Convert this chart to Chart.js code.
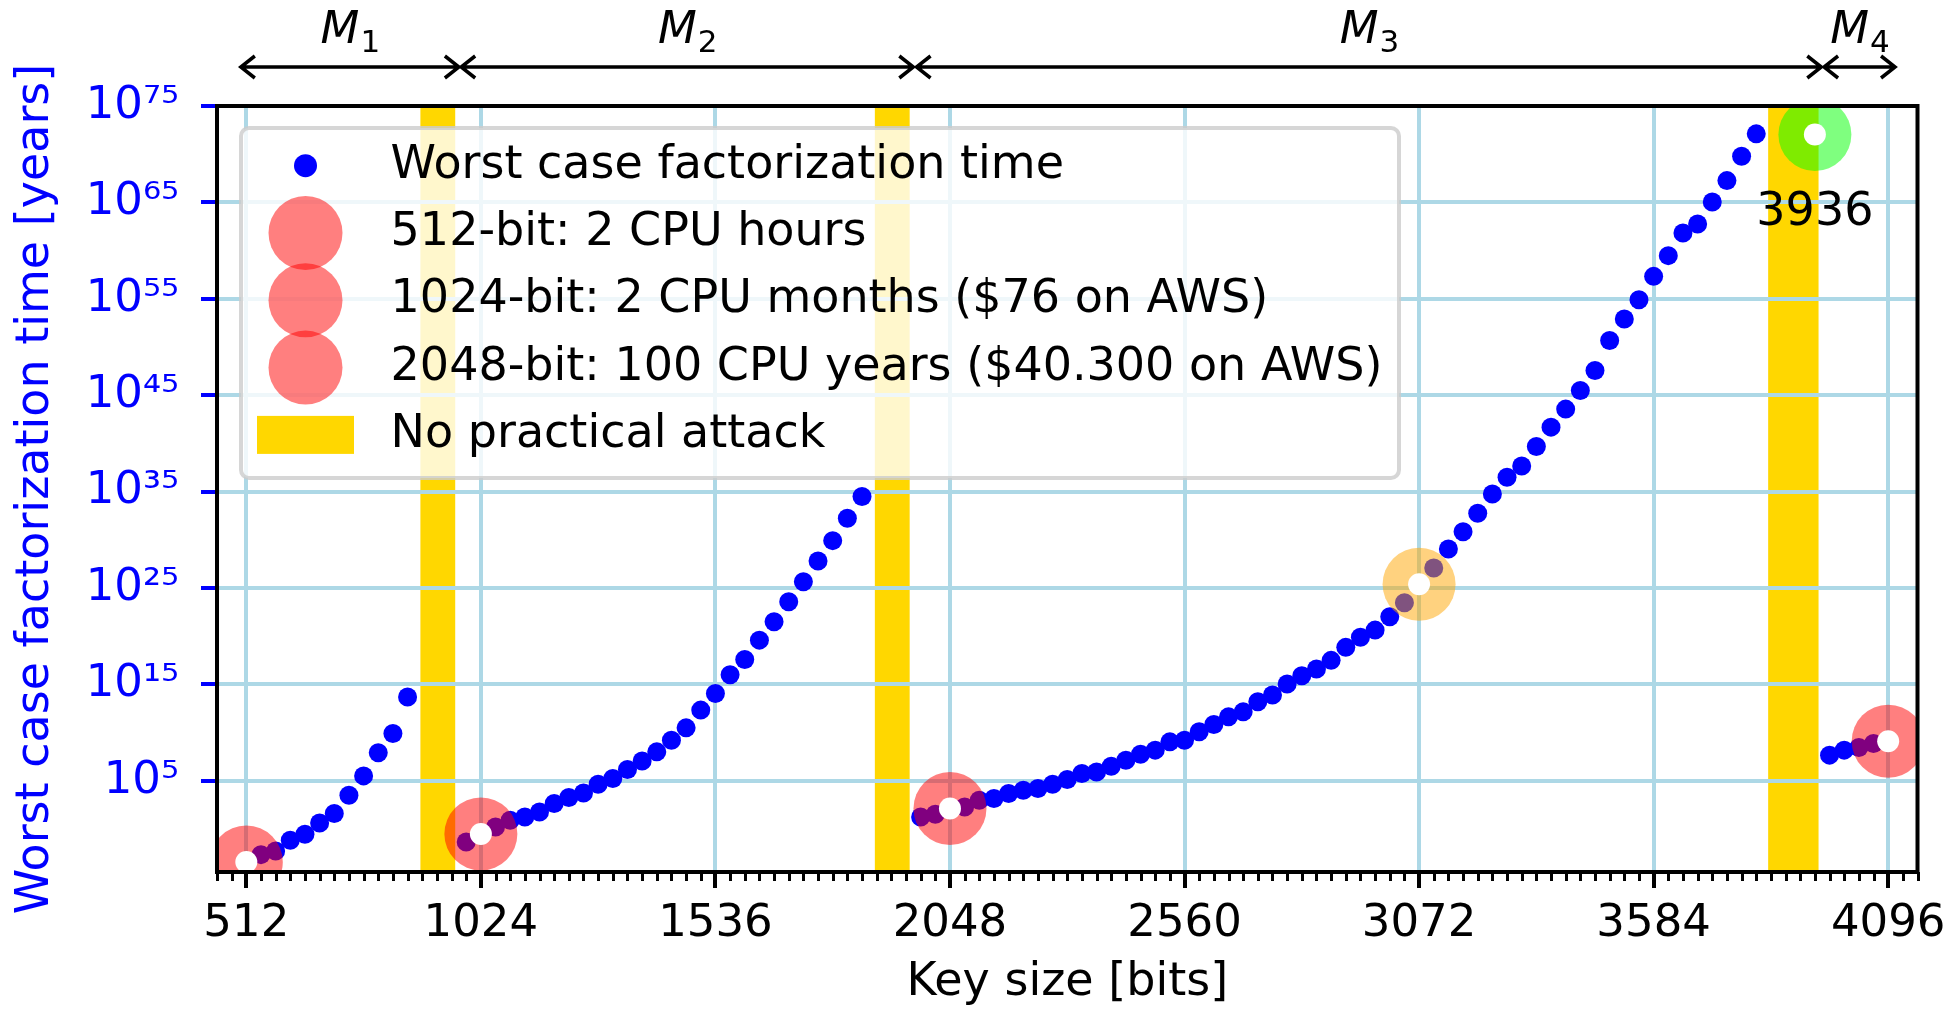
<!DOCTYPE html>
<html>
<head>
<meta charset="utf-8">
<script src="https://cdn.jsdelivr.net/npm/chart.js@4.4.1/dist/chart.umd.min.js"></script>
<style>
    html, body { margin: 0; padding: 0; background: #fff; overflow: hidden; }
    canvas { display: block; }
</style>
</head>
<body>
<canvas id="myChart" width="1954" height="1011"></canvas>
<script>
// key sizes in bits, and log10 of the worst case factorization time in years
const m1Keys = [512, 544, 576, 608, 640, 672, 704, 736, 768, 800, 832, 864];
const m1Exp = [-3.41, -2.65, -2.27, -1.16, -0.54, 0.64, 1.61, 3.51, 5.52, 7.91, 9.92, 13.7];

const m2Keys = [992, 1024, 1056, 1088, 1120, 1152, 1184, 1216, 1248, 1280, 1312, 1344, 1376, 1408,
    1440, 1472, 1504, 1536, 1568, 1600, 1632, 1664, 1696, 1728, 1760, 1792, 1824, 1856];
const m2Exp = [-1.33, -0.5, 0.22, 0.92, 1.26, 1.78, 2.65, 3.27, 3.75, 4.65, 5.24, 6.18, 7.07, 8.01,
    9.22, 10.5, 12.34, 14.07, 16.0, 17.6, 19.6, 21.5, 23.58, 25.66, 27.81, 29.92, 32.24, 34.5];

const m3Keys = [1984, 2016, 2048, 2080, 2112, 2144, 2176, 2208, 2240, 2272,
    2304, 2336, 2368, 2400, 2432, 2464, 2496, 2528, 2560, 2592,
    2624, 2656, 2688, 2720, 2752, 2784, 2816, 2848, 2880, 2912,
    2944, 2976, 3008, 3040, 3072, 3104, 3136, 3168, 3200, 3232,
    3264, 3296, 3328, 3360, 3392, 3424, 3456, 3488, 3520, 3552,
    3584, 3616, 3648, 3680, 3712, 3744, 3776, 3808];
const m3Exp = [1.26, 1.54, 2.13, 2.30, 3.00, 3.17, 3.69, 4.03, 4.21, 4.65,
    5.14, 5.76, 5.93, 6.52, 7.15, 7.77, 8.19, 9.05, 9.22, 10.09,
    10.85, 11.64, 12.16, 13.20, 13.90, 15.04, 15.90, 16.60, 17.50, 18.85,
    19.89, 20.64, 22.03, 23.48, 25.4, 27.08, 29.05, 30.85, 32.76, 34.76,
    36.50, 37.67, 39.68, 41.69, 43.56, 45.50, 47.57, 50.68, 52.90, 54.91,
    57.33, 59.48, 61.83, 62.77, 65.05, 67.26, 69.79, 72.11];

const m4Keys = [3968, 4000, 4032, 4064, 4096];
const m4Exp = [7.67, 8.19, 8.46, 8.88, 9.12];

// highlighted key sizes (big translucent circle + white centre)
const markKeys = [512, 1024, 2048, 4096, 3072, 3936];
const markExp = [-3.41, -0.5, 2.13, 9.12, 25.4, 72.04];
const markColors = ['rgba(255,0,0,0.5)', 'rgba(255,0,0,0.5)', 'rgba(255,0,0,0.5)',
    'rgba(255,0,0,0.5)', 'rgba(255,165,0,0.5)', 'rgba(0,255,0,0.5)'];
const markNote = '3936';

// "No practical attack" bands
const gapStart = [892, 1884, 3834];
const gapEnd = [968, 1960, 3944];

// method ranges M1..M4 above the plot
const methodSub = ['1', '2', '3', '4'];
const methodFrom = [500, 981, 1975, 3956];
const methodTo = [976, 1968, 3950, 4111];

const xTicks = [512, 1024, 1536, 2048, 2560, 3072, 3584, 4096];
const yTickExp = [5, 15, 25, 35, 45, 55, 65, 75];

const legendLabels = [
    'Worst case factorization time',
    '512-bit: 2 CPU hours',
    '1024-bit: 2 CPU months ($76 on AWS)',
    '2048-bit: 100 CPU years ($40.300 on AWS)',
    'No practical attack'
];

const FONT = '"DejaVu Sans", sans-serif';
const sup = { '0': '⁰', '1': '¹', '2': '²', '3': '³', '4': '⁴', '5': '⁵', '6': '⁶', '7': '⁷', '8': '⁸', '9': '⁹', '-': '⁻' };
const powLabel = (v) => '10' + String(Math.round(Math.log10(v))).split('').map(c => sup[c]).join('');

const toPoints = (keys, exps) => keys.map((k, i) => ({ x: k, y: Math.pow(10, exps[i]) }));
const curvePoints = [].concat(
    toPoints(m1Keys, m1Exp), toPoints(m2Keys, m2Exp),
    toPoints(m3Keys, m3Exp), toPoints(m4Keys, m4Exp)
);
const markPoints = toPoints(markKeys, markExp);

const decor = {
    id: 'decor',
    beforeDraw(chart) {
        const { ctx, chartArea: a, scales: { x } } = chart;
        ctx.save();
        ctx.fillStyle = '#ffd700';
        gapStart.forEach((s, i) => {
            const x1 = x.getPixelForValue(s), x2 = x.getPixelForValue(gapEnd[i]);
            ctx.fillRect(x1, a.top, x2 - x1, a.bottom - a.top);
        });
        ctx.restore();
    },
    afterDatasetsDraw(chart) {
        const { ctx, chartArea: a, scales: { x, y } } = chart;
        ctx.save();
        // label under the green marker
        ctx.fillStyle = '#000';
        ctx.font = `46px ${FONT}`;
        ctx.textAlign = 'center';
        ctx.textBaseline = 'alphabetic';
        const gi = markKeys.indexOf(3936);
        ctx.fillText(markNote, x.getPixelForValue(markKeys[gi]), y.getPixelForValue(Math.pow(10, markExp[gi])) + 90);

        // frame
        ctx.strokeStyle = '#000';
        ctx.lineWidth = 4;
        ctx.strokeRect(a.left, a.top, a.right - a.left, a.bottom - a.top);

        // minor ticks on x
        ctx.lineWidth = 3;
        ctx.beginPath();
        for (let v = 448; v <= 4160; v += 32) {
            if (v % 512 === 0) continue;
            const px = Math.round(x.getPixelForValue(v)) + 0.5;
            ctx.moveTo(px, a.bottom);
            ctx.lineTo(px, a.bottom + 9);
        }
        ctx.stroke();
        ctx.restore();
    },
    afterDraw(chart) {
        const { ctx, chartArea: a, scales: { x } } = chart;
        ctx.save();

        // M1..M4 double arrows
        const ay = 67;
        ctx.strokeStyle = '#000';
        ctx.fillStyle = '#000';
        ctx.lineWidth = 3.5;
        methodSub.forEach((s, i) => {
            const x1 = x.getPixelForValue(methodFrom[i]);
            const x2 = x.getPixelForValue(methodTo[i]);
            ctx.beginPath();
            ctx.moveTo(x1, ay); ctx.lineTo(x2, ay);
            ctx.moveTo(x1 + 14, ay - 11); ctx.lineTo(x1, ay); ctx.lineTo(x1 + 14, ay + 11);
            ctx.moveTo(x2 - 14, ay - 11); ctx.lineTo(x2, ay); ctx.lineTo(x2 - 14, ay + 11);
            ctx.stroke();

            ctx.textAlign = 'left';
            ctx.textBaseline = 'alphabetic';
            ctx.font = `italic 45px ${FONT}`;
            const wM = ctx.measureText('M').width;
            ctx.font = `31px ${FONT}`;
            const wS = ctx.measureText(s).width;
            const sx = (x1 + x2) / 2 - (wM + wS) / 2;
            ctx.font = `italic 45px ${FONT}`;
            ctx.fillText('M', sx, 43);
            ctx.font = `31px ${FONT}`;
            ctx.fillText(s, sx + wM + 1, 52);
        });

        // legend
        const bx = a.left + 24, by = a.top + 22, bw = 1158, bh = 350, r = 8;
        ctx.beginPath();
        ctx.moveTo(bx + r, by);
        ctx.lineTo(bx + bw - r, by);
        ctx.arcTo(bx + bw, by, bx + bw, by + r, r);
        ctx.lineTo(bx + bw, by + bh - r);
        ctx.arcTo(bx + bw, by + bh, bx + bw - r, by + bh, r);
        ctx.lineTo(bx + r, by + bh);
        ctx.arcTo(bx, by + bh, bx, by + bh - r, r);
        ctx.lineTo(bx, by + r);
        ctx.arcTo(bx, by, bx + r, by, r);
        ctx.closePath();
        ctx.fillStyle = 'rgba(255,255,255,0.8)';
        ctx.fill();
        ctx.strokeStyle = 'rgba(204,204,204,0.8)';
        ctx.lineWidth = 4;
        ctx.stroke();

        const mx = bx + 64.5;
        legendLabels.forEach((label, i) => {
            const ry = by + 37.7 + i * 67.3;
            if (i === 0) {
                ctx.fillStyle = '#0000ff';
                ctx.beginPath(); ctx.arc(mx, ry, 11.5, 0, Math.PI * 2); ctx.fill();
            } else if (i < 4) {
                ctx.fillStyle = 'rgba(255,0,0,0.5)';
                ctx.beginPath(); ctx.arc(mx, ry, 37, 0, Math.PI * 2); ctx.fill();
            } else {
                ctx.fillStyle = '#ffd700';
                ctx.fillRect(mx - 48.5, ry - 19, 97, 38);
            }
            ctx.fillStyle = '#000';
            ctx.font = `46px ${FONT}`;
            ctx.textAlign = 'left';
            ctx.textBaseline = 'middle';
            ctx.fillText(label, bx + 149.6, ry);
        });
        ctx.restore();
    }
};

const ctx = document.getElementById('myChart');
new Chart(ctx, {
    type: 'scatter',
    data: {
        datasets: [{
            label: 'marked',
            data: markPoints,
            backgroundColor: '#ffffff',
            pointRadius: 11,
            borderWidth: 0,
            order: 1,
            clip: 0
        }, {
            label: 'marked circles',
            data: markPoints,
            backgroundColor: markColors,
            pointRadius: 36.5,
            borderWidth: 0,
            order: 2,
            clip: 0
        }, {
            label: legendLabels[0],
            data: curvePoints,
            backgroundColor: '#0000ff',
            pointRadius: 9.5,
            borderWidth: 0,
            order: 3,
            clip: 0
        }]
    },
    options: {
        responsive: false,
        animation: false,
        devicePixelRatio: 1,
        events: [],
        layout: { padding: { top: 106, right: 31, left: 0, bottom: 0 } },
        plugins: { legend: { display: false }, tooltip: { enabled: false } },
        scales: {
            x: {
                type: 'linear',
                position: 'bottom',
                min: 448,
                max: 4160,
                afterBuildTicks: (s) => { s.ticks = xTicks.map(v => ({ value: v })); },
                afterFit: (s) => { s.height = 139; s.paddingLeft = 0; s.paddingRight = 0; },
                ticks: {
                    callback: (v) => String(v),
                    color: '#000',
                    font: { family: FONT, size: 45 },
                    padding: 9,
                    maxRotation: 0,
                    autoSkip: false
                },
                grid: { color: '#add8e6', lineWidth: 4, tickLength: 16, tickColor: '#000', tickWidth: 4 },
                border: { display: false },
                title: {
                    display: true,
                    text: 'Key size [bits]',
                    color: '#000',
                    font: { family: FONT, size: 46 },
                    padding: { top: 0, bottom: 0 }
                }
            },
            y: {
                type: 'logarithmic',
                position: 'left',
                min: Math.pow(10, -4.45),
                max: 1e75,
                afterBuildTicks: (s) => { s.ticks = yTickExp.map(e => ({ value: Math.pow(10, e) })); },
                afterFit: (s) => { s.width = 217; s.paddingTop = 0; s.paddingBottom = 0; },
                ticks: {
                    callback: (v) => powLabel(v),
                    color: '#0000ff',
                    font: { family: FONT, size: 45 },
                    padding: 22,
                    autoSkip: false
                },
                grid: { color: '#add8e6', lineWidth: 4, tickLength: 16, tickColor: '#0000ff', tickWidth: 4 },
                border: { display: false },
                title: {
                    display: true,
                    text: 'Worst case factorization time [years]',
                    color: '#0000ff',
                    font: { family: FONT, size: 46 },
                    padding: { top: 8, bottom: 0 }
                }
            }
        }
    },
    plugins: [decor]
});
</script>
</body>
</html>
